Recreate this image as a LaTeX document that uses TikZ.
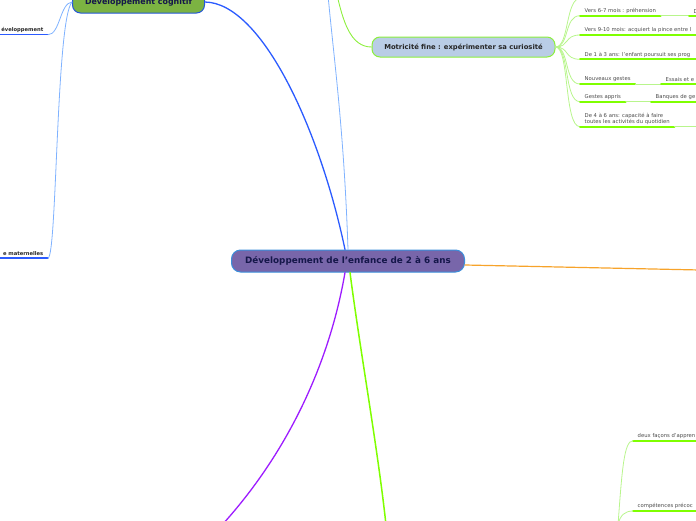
\documentclass[tikz,border=0pt]{standalone}
\usepackage{fontspec}
\setmainfont{DejaVu Sans}
\definecolor{rootfill}{HTML}{7866AA}
\definecolor{rootline}{HTML}{3B8FDB}
\definecolor{navytext}{HTML}{15174A}
\definecolor{cogfill}{HTML}{7CB342}
\definecolor{cogline}{HTML}{2457D8}
\definecolor{mffill}{HTML}{B9CDE6}
\definecolor{mfline}{HTML}{8CEF3C}
\definecolor{leaftext}{HTML}{4A4A4A}
\definecolor{limeline}{HTML}{7FFF00}
\definecolor{twiggreen}{HTML}{B8F58C}
\definecolor{bluebranch}{HTML}{2B5BFF}
\definecolor{lightblue}{HTML}{7FB2FF}
\definecolor{purplebranch}{HTML}{9D1CFF}
\definecolor{orangebranch}{HTML}{F7A32A}
\begin{document}
\begin{tikzpicture}[x=1pt, y=-1pt, line cap=round, line join=round,
  rootbox/.style={draw=rootline, fill=rootfill, line width=1pt, rounded corners=9pt,
    minimum width=233pt, minimum height=22pt, inner sep=0pt, text=navytext,
    font=\bfseries\fontsize{8.8}{10}\selectfont},
  cogbox/.style={draw=cogline, fill=cogfill, line width=1pt, rounded corners=8pt,
    minimum width=132pt, minimum height=22pt, inner sep=0pt, text=navytext,
    font=\bfseries\fontsize{7.9}{9}\selectfont},
  mfbox/.style={draw=mfline, fill=mffill, line width=1pt, rounded corners=8pt,
    minimum width=183pt, minimum height=20pt, inner sep=0pt, text=black!85,
    font=\bfseries\fontsize{6.8}{8}\selectfont},
  leaf/.style={anchor=south west, inner xsep=4.5pt, inner ysep=2pt, align=left,
    text=leaftext, font=\fontsize{5.3}{6.4}\selectfont},
  boldleaf/.style={anchor=south east, inner xsep=4.5pt, inner ysep=2pt,
    text=black!85, font=\bfseries\fontsize{5.2}{6.5}\selectfont},
  uline/.style={draw=limeline, line width=1.7pt},
  blueline/.style={draw=bluebranch, line width=1.5pt},
  twig/.style={draw=twiggreen, line width=0.8pt}]
\useasboundingbox (0,0) rectangle (696,520);
\clip (0,0) rectangle (696,520);

% branches du centre
\coordinate (up) at (328,-5);
\coordinate (mfparent) at (337,-5);
\coordinate (down) at (386,525);
\coordinate (downleft) at (222,525);
\coordinate (right) at (700,270);

\node[rootbox] (root) at (348,261) {Développement de l'enfance de 2 à 6 ans};
\node[cogbox] (cog) at (138.5,2) {Développement cognitif};
\node[mfbox] (mf) at (463.5,47) {Motricité fine : expérimenter sa curiosité};

\draw[draw=bluebranch, line width=1.3pt] (root.north) ++(-3,0) .. controls (320,130) and (262,3) .. (cog.east);
\draw[draw=lightblue, line width=0.8pt] (root.north) .. controls (344,130) and (334,60) .. (up);
\draw[draw=mfline, line width=0.9pt] (mf.west) .. controls (350,47) and (343,20) .. (mfparent);
\draw[draw=limeline, line width=1.5pt] (root.south) ++(2,0) .. controls (360,350) and (378,450) .. (down);
\draw[draw=purplebranch, line width=1.3pt] (root.south) ++(-3,0) .. controls (330,360) and (290,450) .. (downleft);
\draw[draw=orangebranch, line width=1.2pt] (root.east) ++(0,4) -- (right);

% développement cognitif
\node[boldleaf] (dev) at (48,34.7) {éveloppement};
\node[boldleaf] (mat) at (48,258) {e maternelles};
\draw[blueline] (-2,34.7) -- (dev.south east);
\draw[blueline] (-2,258) -- (mat.south east);
\draw[draw=lightblue, line width=0.8pt] (dev.south east) .. controls (60,34.7) and (60,3) .. (cog.west);
\draw[draw=lightblue, line width=0.8pt] (mat.south east) .. controls (57,258) and (56,20) .. (cog.west);

% motricité fine
\coordinate (topleaf) at (581,-2);
\node[leaf] (v67) at (580,15.7) {Vers 6-7 mois : préhension};
\node[leaf] (v67b) at (689,15.7) {D};
\node[leaf] (v910) at (580,35) {Vers 9-10 mois: acquiert la pince entre l};
\node[leaf] (a13) at (580,59.3) {De 1 à 3 ans: l'enfant poursuit ses prog};
\node[leaf] (ng) at (580,84) {Nouveaux gestes};
\node[leaf] (ngb) at (661,84) {Essais et e};
\node[leaf] (ga) at (580,101.7) {Gestes appris};
\node[leaf] (gab) at (651,101.7) {Banques de ge};
\node[leaf] (a46) at (580,126.7) {De 4 à 6 ans: capacité à faire\\toutes les activités du quotidien};

\foreach \n in {topleaf,v67,v910,a13,ng,ga,a46}
  \draw[twig] (mf.east) .. controls +(14,0) and +(-16,0) .. (\n.south west);

\draw[uline] (v67.south west) -- (v67.south east);
\draw[twig] (v67.south east) .. controls +(12,0) and +(-12,0) .. (v67b.south west);
\draw[uline] (v67b.south west) -- (700,15.7);
\draw[uline] (v910.south west) -- (700,35);
\draw[uline] (a13.south west) -- (700,59.3);
\draw[uline] (ng.south west) -- (ng.south east);
\draw[twig] (ng.south east) -- (ngb.south west);
\draw[uline] (ngb.south west) -- (700,84);
\draw[uline] (ga.south west) -- (ga.south east);
\draw[twig] (ga.south east) -- (gab.south west);
\draw[uline] (gab.south west) -- (700,101.7);
\draw[uline] (a46.south west) -- (a46.south east);
\draw[twig, line width=1.4pt] (a46.south east) -- (700,126.7);

% en bas à droite
\coordinate (brparent) at (618,525);
\node[leaf] (deux) at (633,440.7) {deux façons d'appren};
\node[leaf] (comp) at (633,511) {compétences précoc};
\draw[uline] (deux.south west) -- (700,440.7);
\draw[uline] (comp.south west) -- (700,511);
\draw[twig] (brparent) .. controls (622,470) and (624,440.7) .. (deux.south west);
\draw[twig] (brparent) .. controls (620,515) and (625,511) .. (comp.south west);
\end{tikzpicture}
\end{document}
